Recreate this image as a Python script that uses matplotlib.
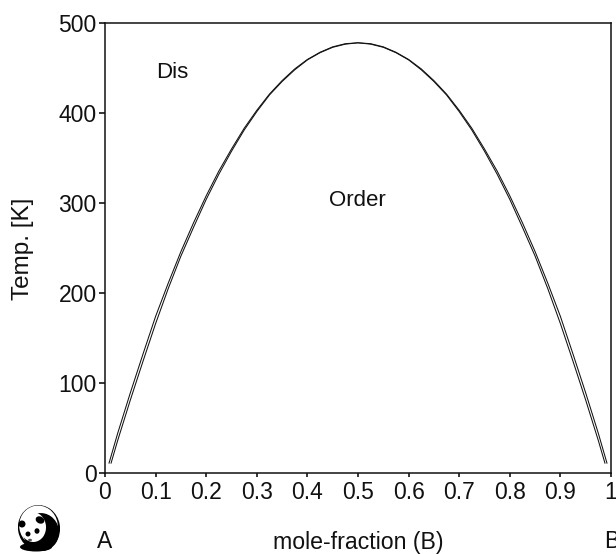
import matplotlib
matplotlib.use("Agg")
import matplotlib.pyplot as plt
from matplotlib.patches import Ellipse

plt.rcParams['font.family'] = ['Liberation Sans', 'DejaVu Sans']

W, H = 616, 554
outer_x = [0.008, 0.025, 0.05, 0.075, 0.1, 0.125, 0.15, 0.175, 0.2, 0.225, 0.25, 0.275, 0.3, 0.325, 0.35,
           0.375, 0.4, 0.425, 0.45, 0.475, 0.5, 0.525, 0.55, 0.575, 0.6, 0.625, 0.65, 0.675, 0.7,
           0.725, 0.75, 0.775, 0.8, 0.825, 0.85, 0.875, 0.9, 0.925, 0.95, 0.975, 0.992]
outer_t = [11, 44, 89, 132, 174, 211, 246, 278, 308, 335.5, 360, 383, 403, 421, 436,
           449, 459.5, 467.5, 473.5, 477, 478, 477, 473.5, 467.5, 459.5, 449, 436, 421, 403,
           383, 360, 335.5, 308, 278, 246, 211, 174, 132, 89, 44, 11]
inner_x = [0.012, 0.025, 0.05, 0.075, 0.1, 0.125, 0.15, 0.175, 0.2, 0.225, 0.25, 0.275, 0.3, 0.325, 0.35,
           0.375, 0.4, 0.425, 0.45, 0.475, 0.5, 0.525, 0.55, 0.575, 0.6, 0.625, 0.65, 0.675, 0.7,
           0.725, 0.75, 0.775, 0.8, 0.825, 0.85, 0.875, 0.9, 0.925, 0.95, 0.975, 0.988]
inner_t = [11, 36, 81, 124, 166, 205, 241, 273, 304, 332, 357.5, 381, 401.5, 420, 435,
           448, 459, 467, 473, 476.5, 478, 476.5, 473, 467, 459, 448, 435, 420, 401.5,
           381, 357.5, 332, 304, 273, 241, 205, 166, 124, 81, 36, 11]
x_ticks = [0, 0.1, 0.2, 0.3, 0.4, 0.5, 0.6, 0.7, 0.8, 0.9, 1]
x_labels = ['0', '0.1', '0.2', '0.3', '0.4', '0.5', '0.6', '0.7', '0.8', '0.9', '1']
y_ticks = [0, 100, 200, 300, 400, 500]
y_labels = ['0', '100', '200', '300', '400', '500']

fig = plt.figure(figsize=(W / 100, H / 100), dpi=100)
L, R, T, B = 105, 611, 23, 473
ax = fig.add_axes([L / W, 1 - B / H, (R - L) / W, (B - T) / H])
ax.plot(outer_x, outer_t, color='#111111', lw=0.75)
ax.plot(inner_x, inner_t, color='#111111', lw=0.75)
ax.set_xlim(0, 1)
ax.set_ylim(0, 500)
ax.set_xticks(x_ticks, x_labels)
ax.set_yticks(y_ticks, y_labels)
ax.tick_params(axis='x', length=3.2, width=1.1, pad=2.5, labelsize=16.5, labelcolor='#111111')
ax.tick_params(axis='y', length=4, width=1.1, pad=2, labelsize=16.5, labelcolor='#111111')
for s in ax.spines.values():
    s.set_linewidth(1.1)
    s.set_color('#111111')


def ftext(px, py, s, **kw):
    fig.text(px / W, 1 - py / H, s, ha='center', va='center', color='#111111', **kw)


ftext(172, 72, 'Dis', fontsize=16)
ftext(357, 201, 'Order', fontsize=16)
ftext(23, 249, 'Temp. [K]', fontsize=17.5, rotation=90)
ftext(105, 542, 'A', fontsize=16.5)
ftext(358, 542, 'mole-fraction (B)', fontsize=16.7)
ftext(612, 542, 'B', fontsize=16.5)

# panda badge, drawn in pixel coordinates
pa = fig.add_axes([0, 0, 1, 1], facecolor='none')
pa.set_xlim(0, W)
pa.set_ylim(H, 0)
pa.axis('off')
pa.add_patch(Ellipse((39, 528), 42, 46, angle=-10, color='black', lw=0))
pa.add_patch(Ellipse((38.5, 526), 38.5, 41, angle=-10, color='white', lw=0))
pa.add_patch(Ellipse((41, 532), 36, 38, angle=-10, color='black', lw=0))
pa.add_patch(Ellipse((33, 527), 26, 30, angle=-5, color='white', lw=0))
pa.add_patch(Ellipse((40, 520), 9, 7, angle=25, color='black', lw=0))
pa.add_patch(Ellipse((22, 524), 7, 7, color='black', lw=0))
pa.add_patch(Ellipse((28, 534), 5, 5, color='black', lw=0))
pa.add_patch(Ellipse((37, 531), 5, 5.5, color='black', lw=0))
pa.add_patch(Ellipse((30, 540), 4, 2.5, color='#555555', lw=0))
pa.add_patch(Ellipse((36, 547), 32, 9, color='black', lw=0))

fig.savefig('out.png', dpi=100)
